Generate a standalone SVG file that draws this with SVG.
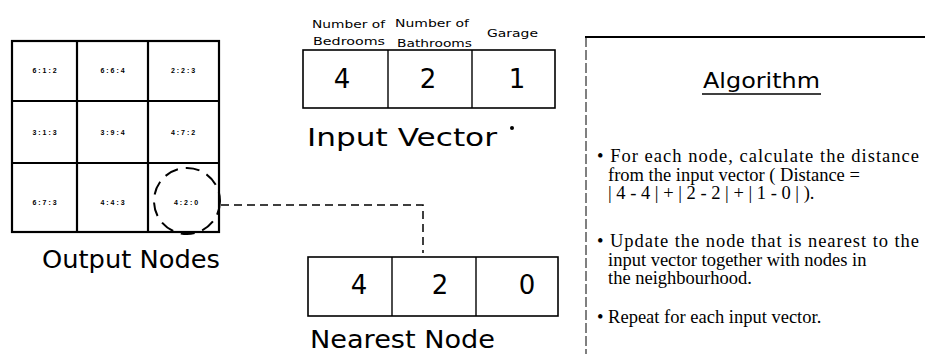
<svg xmlns="http://www.w3.org/2000/svg" width="925" height="354" viewBox="0 0 925 354">
<style>
.bg{fill:#fff}
.box{fill:#fff;stroke:#000;stroke-width:1.6}
.grid{fill:none;stroke:#000;stroke-width:2.2}
.div{stroke:#000;stroke-width:1.4}
.sans{font-family:"DejaVu Sans","Liberation Sans",sans-serif;fill:#000}
.lbl{font-size:24px}
.num{font-size:26px;text-anchor:middle}
.hdr{font-size:11px}
.cell{font-family:"Liberation Sans",sans-serif;font-size:7px;font-weight:bold;text-anchor:middle;fill:#000}
.serif{font-family:"Liberation Serif","Times New Roman",serif;font-size:18.5px;fill:#000}
.dash{fill:none;stroke:#000;stroke-width:1.5;stroke-dasharray:8 5}
</style>
<rect class="bg" x="0" y="0" width="925" height="354"/>

<g id="output-nodes">
  <rect class="grid" x="12" y="41" width="207" height="191"/>
  <line class="grid" x1="77" y1="41" x2="77" y2="232"/>
  <line class="grid" x1="148" y1="41" x2="148" y2="232"/>
  <line class="grid" x1="12" y1="101" x2="219" y2="101"/>
  <line class="grid" x1="12" y1="163" x2="219" y2="163"/>
  <text class="cell" x="44.5" y="73">6 : 1 : 2</text>
  <text class="cell" x="112.5" y="73">6 : 6 : 4</text>
  <text class="cell" x="183" y="73">2 : 2 : 3</text>
  <text class="cell" x="44.5" y="135">3 : 1 : 3</text>
  <text class="cell" x="112.5" y="135">3 : 9 : 4</text>
  <text class="cell" x="183" y="135">4 : 7 : 2</text>
  <text class="cell" x="44.5" y="205">6 : 7 : 3</text>
  <text class="cell" x="112.5" y="205">4 : 4 : 3</text>
  <text class="cell" x="186" y="205">4 : 2 : 0</text>
  <circle cx="187" cy="201" r="33" fill="none" stroke="#000" stroke-width="2" stroke-dasharray="14 8"/>
  <text class="sans lbl" x="42" y="268" textLength="178" lengthAdjust="spacingAndGlyphs">Output Nodes</text>
</g>

<g id="input-vector">
  <text class="sans hdr" x="312" y="28" textLength="73" lengthAdjust="spacingAndGlyphs">Number of</text>
  <text class="sans hdr" x="313" y="45" textLength="72" lengthAdjust="spacingAndGlyphs">Bedrooms</text>
  <text class="sans hdr" x="395" y="27" textLength="74" lengthAdjust="spacingAndGlyphs">Number of</text>
  <text class="sans hdr" x="397" y="47" textLength="75" lengthAdjust="spacingAndGlyphs">Bathrooms</text>
  <text class="sans hdr" x="487" y="37" textLength="51" lengthAdjust="spacingAndGlyphs">Garage</text>
  <rect class="box" x="303" y="50" width="252" height="58"/>
  <line class="div" x1="388" y1="50" x2="388" y2="108"/>
  <line class="div" x1="472" y1="50" x2="472" y2="108"/>
  <text class="sans num" x="342" y="88">4</text>
  <text class="sans num" x="428" y="88">2</text>
  <text class="sans num" x="517" y="88">1</text>
  <text class="sans lbl" x="307" y="146" textLength="190" lengthAdjust="spacingAndGlyphs">Input Vector</text>
  <circle cx="512" cy="128" r="2" fill="#000"/>
</g>

<g id="nearest-node">
  <rect class="box" x="308" y="257" width="250" height="59"/>
  <line class="div" x1="392" y1="257" x2="392" y2="316"/>
  <line class="div" x1="476" y1="257" x2="476" y2="316"/>
  <text class="sans num" x="359" y="294">4</text>
  <text class="sans num" x="440" y="294">2</text>
  <text class="sans num" x="527" y="294">0</text>
  <text class="sans lbl" x="310" y="348" textLength="185" lengthAdjust="spacingAndGlyphs">Nearest Node</text>
</g>

<g id="connectors">
  <path class="dash" d="M221,205 H423 V253"/>
</g>

<g id="algorithm">
  <line x1="585" y1="37" x2="925" y2="37" stroke="#000" stroke-width="2"/>
  <line x1="586" y1="37" x2="586" y2="354" stroke="#000" stroke-width="1" stroke-dasharray="10 3"/>
  <text class="sans" x="703" y="88" font-size="22" textLength="117" lengthAdjust="spacingAndGlyphs">Algorithm</text>
  <line x1="702" y1="94" x2="821" y2="94" stroke="#000" stroke-width="1.5"/>
  <text class="serif" x="597" y="162" textLength="322" lengthAdjust="spacing">• For each node, calculate the distance</text>
  <text class="serif" x="608" y="180.5">from the input vector ( Distance =</text>
  <text class="serif" x="608" y="199">| 4 - 4 | + | 2 - 2 | + | 1 - 0 | ).</text>
  <text class="serif" x="597" y="247" textLength="322" lengthAdjust="spacing">• Update the node that is nearest to the</text>
  <text class="serif" x="608" y="265.5">input vector together with nodes in</text>
  <text class="serif" x="608" y="284">the neighbourhood.</text>
  <text class="serif" x="597" y="323">• Repeat for each input vector.</text>
</g>
</svg>
